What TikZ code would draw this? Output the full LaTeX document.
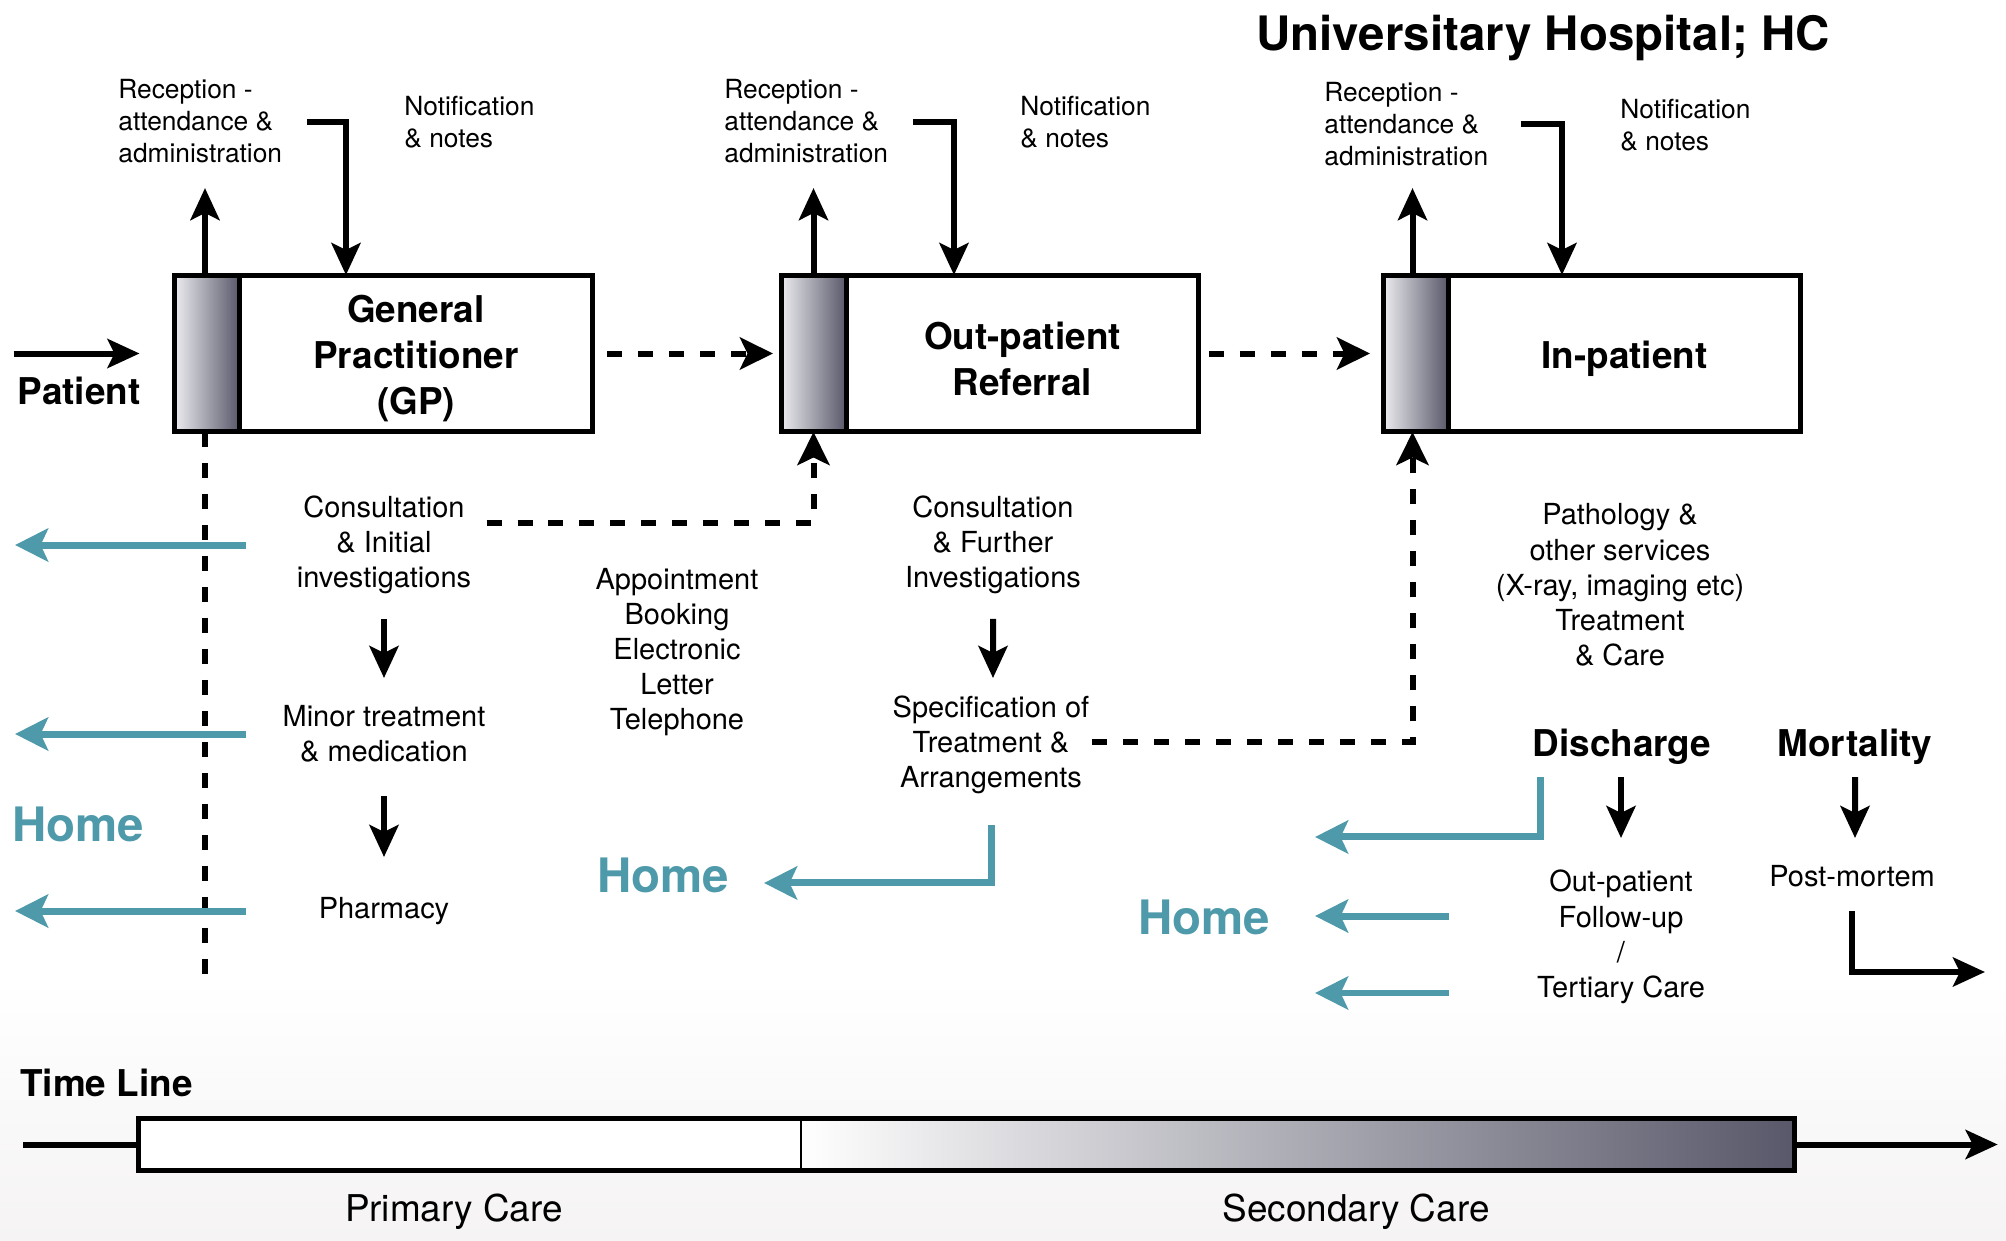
\documentclass[tikz,border=0pt]{standalone}
\usepackage{fontspec}
\setmainfont{TeX Gyre Heros}
\usetikzlibrary{arrows.meta,positioning}
\definecolor{homeblue}{RGB}{78,154,171}
\definecolor{shadelight}{RGB}{236,236,240}
\definecolor{shadedark}{RGB}{88,88,106}
\definecolor{bgfade}{RGB}{245,243,244}

\begin{document}
\begin{tikzpicture}[x=0.02cm,y=-0.02cm,
  ward/.style={draw,line width=0.1cm,outer sep=0pt,minimum width=7.06cm,minimum height=3.14cm},
  desk/.style={draw,line width=0.1cm,outer sep=0pt,minimum width=1.3cm,minimum height=3.14cm,left color=shadelight,right color=shadedark},
  remark/.style={inner sep=0pt,align=left,font=\fontsize{15}{18.2}\selectfont},
  task/.style={inner sep=0pt,align=center,font=\fontsize{16.5}{20}\selectfont},
  heading/.style={inner sep=0pt,align=center,font=\fontsize{21}{26.2}\selectfont\bfseries},
  era/.style={inner sep=0pt,font=\fontsize{21}{26.2}\selectfont},
  banner/.style={inner sep=0pt,font=\fontsize{27}{32}\selectfont\bfseries},
  flow/.style={line width=0.12cm,-{Stealth[length=0.64cm,width=0.58cm,inset=0.14cm]}},
  link/.style={line width=0.12cm,dash pattern=on 0.3cm off 0.32cm},
  linkarr/.style={link,-{Stealth[length=0.66cm,width=0.64cm,inset=0.15cm]}},
  gohome/.style={draw=homeblue,line width=0.14cm,-{Stealth[length=0.66cm,width=0.66cm,inset=0.15cm]}}]

\fill [white] (0,0) rectangle (2006,1241);
\shade [top color=white,bottom color=bgfade] (0,980) rectangle (2006,1241);
\useasboundingbox (0,0) rectangle (2006,1241);

\node [banner] (hc) at (1543,38) {Universitary Hospital; HC};

%%%%%%%%%%%%%%%%%%%%%%%%%%%% General Practitioner
\node [desk] (gp-in) at (207,353.5) {};
\node [ward,anchor=west] (gp) at (gp-in.east) {};
\node [heading] (gp-txt) at ([yshift=-0.1cm]gp.center) {General\\Practitioner\\(GP)};
\node [remark,anchor=west] (gp-rec) at (118,121.5) {Reception -\\attendance \&\\administration};
\node [remark,anchor=west] (gp-note) at (404,122) {Notification\\\& notes};
\draw [flow] ([xshift=-0.04cm]gp-in.north) -- ([xshift=-0.04cm,yshift=1.74cm]gp-in.north);
\draw [flow] ([xshift=0.49cm]gp-rec.east) -| ([xshift=-1.4cm]gp.north);

\node [heading] (patient) at (79,391) {Patient};
\draw [flow] ([xshift=-3.22cm]gp-in.west) -- ([xshift=-0.7cm]gp-in.west);

\node [task] (gp-cons) at (384,545) {Consultation\\\& Initial\\investigations};
\node [task] (gp-minor) at (384,734) {Minor treatment\\\& medication};
\node [task] (gp-pharm) at (384,911) {Pharmacy};
\draw [flow] ([yshift=-1.48cm]gp-cons.center) -- ([yshift=1.12cm]gp-minor.center);
\draw [flow] ([yshift=-1.24cm]gp-minor.center) -- ([yshift=1.08cm]gp-pharm.center);
\draw [link] ([xshift=-0.04cm]gp-in.south) -- ([xshift=-0.04cm,yshift=-11cm]gp-in.south);

\foreach \n in {gp-cons,gp-minor,gp-pharm}
  \draw [gohome] ([xshift=-2.76cm]\n.center) -- ([xshift=-7.38cm]\n.center);
\node [banner,text=homeblue] (gp-home) at (78,824) {Home};

\node [task] (appt) at (677,652) {Appointment\\Booking\\Electronic\\Letter\\Telephone};

%%%%%%%%%%%%%%%%%%%%%%%%%%%% Out-patient
\node [desk] (out-in) at (813.5,353.5) {};
\node [ward,anchor=west] (out) at (out-in.east) {};
\node [heading] (out-txt) at ([yshift=-0.1cm]out.center) {Out-patient\\Referral};
\node [remark,anchor=west] (out-rec) at (724,121.5) {Reception -\\attendance \&\\administration};
\node [remark,anchor=west] (out-note) at (1020,122) {Notification\\\& notes};
\draw [flow] (out-in.north) -- ([yshift=1.74cm]out-in.north);
\draw [flow] ([xshift=0.49cm]out-rec.east) -| ([xshift=-1.37cm]out.north);
\draw [linkarr,shorten <=0.3cm,shorten >=0.16cm] (gp.east) -- (out-in.west);
\draw [linkarr] ([xshift=0.3cm,yshift=0.44cm]gp-cons.east) -| (out-in.south);

\node [task] (out-cons) at (993,545) {Consultation\\\& Further\\Investigations};
\node [task] (out-spec) at (991,745) {Specification of\\Treatment \&\\Arrangements};
\draw [flow] ([yshift=-1.48cm]out-cons.center) -- ([xshift=0.04cm,yshift=1.34cm]out-spec.center);
\draw [gohome] ([yshift=-1.6cm]out-spec.center) |- ([xshift=-4.54cm,yshift=-2.76cm]out-spec.center);
\node [banner,text=homeblue] (out-home) at (663,875) {Home};

%%%%%%%%%%%%%%%%%%%%%%%%%%%% In-patient
\node [desk] (in-in) at (1415.5,353.5) {};
\node [ward,anchor=west] (in) at (in-in.east) {};
\node [heading] (in-txt) at ([yshift=-0.1cm]in.center) {In-patient};
\node [remark,anchor=west] (in-rec) at (1324,124) {Reception -\\attendance \&\\administration};
\node [remark,anchor=west] (in-note) at (1620,125) {Notification\\\& notes};
\draw [flow] ([xshift=-0.06cm]in-in.north) -- ([xshift=-0.06cm,yshift=1.74cm]in-in.north);
\draw [flow] ([xshift=0.65cm]in-rec.east) -| ([xshift=-1.25cm]in.north);
\draw [linkarr,shorten <=0.2cm,shorten >=0.26cm] (out.east) -- (in-in.west);
\draw [linkarr] ([xshift=0.05cm,yshift=0.06cm]out-spec.east) -| ([xshift=-0.06cm]in-in.south);

\node [task] (in-path) at (1620,585) {Pathology \&\\other services\\(X-ray, imaging etc)\\Treatment\\\& Care};
\node [heading] (dis) at (1622,747) {Discharge};
\node [heading] (mort) at (1855,747) {Mortality};
\node [task] (follow) at (1621,937) {Out-patient\\Follow-up\\/\\Tertiary Care};
\node [task] (pm) at (1852,876) {Post-mortem};
\draw [flow] ([xshift=-0.02cm,yshift=-0.6cm]dis.center) -- ([yshift=1.98cm]follow.center);
\draw [flow] ([yshift=-0.6cm]mort.center) -- ([xshift=0.06cm,yshift=0.76cm]pm.center);
\draw [flow] ([yshift=-0.7cm]pm.center) |- ([xshift=2.66cm,yshift=-1.92cm]pm.center);

\draw [gohome] ([xshift=-1.64cm,yshift=-0.6cm]dis.center) |- ([xshift=-6.14cm,yshift=-1.8cm]dis.center);
\draw [gohome] ([xshift=-3.44cm,yshift=0.42cm]follow.center) -- ([xshift=-6.12cm,yshift=0.42cm]follow.center);
\draw [gohome] ([xshift=-3.44cm,yshift=-1.12cm]follow.center) -- ([xshift=-6.12cm,yshift=-1.12cm]follow.center);
\node [banner,text=homeblue] (in-home) at (1204,917) {Home};

%%%%%%%%%%%%%%%%%%%%%%%%%%%% Time Line
\node [heading,anchor=west] (tl) at (20,1083) {Time Line};
\node [minimum width=13.25cm,minimum height=1.04cm,fill=white,inner sep=0pt,outer sep=0pt] (tl-prim) at (469.75,1144.5) {};
\node [anchor=west,minimum width=19.87cm,minimum height=1.04cm,left color=white,right color=shadedark,inner sep=0pt,outer sep=0pt] (tl-sec) at (tl-prim.east) {};
\draw [line width=0.1cm] (tl-prim.north west) rectangle (tl-sec.south east);
\draw [line width=0.04cm] (tl-sec.north west) -- (tl-sec.south west);
\draw [line width=0.12cm] ([xshift=-2.31cm]tl-prim.west) -- (tl-prim.west);
\draw [flow] (tl-sec.east) -- ([xshift=4.07cm]tl-sec.east);
\node [era] (prim-lbl) at (454,1212) {Primary Care};
\node [era] (sec-lbl) at (1356,1212) {Secondary Care};

\end{tikzpicture}
\end{document}
